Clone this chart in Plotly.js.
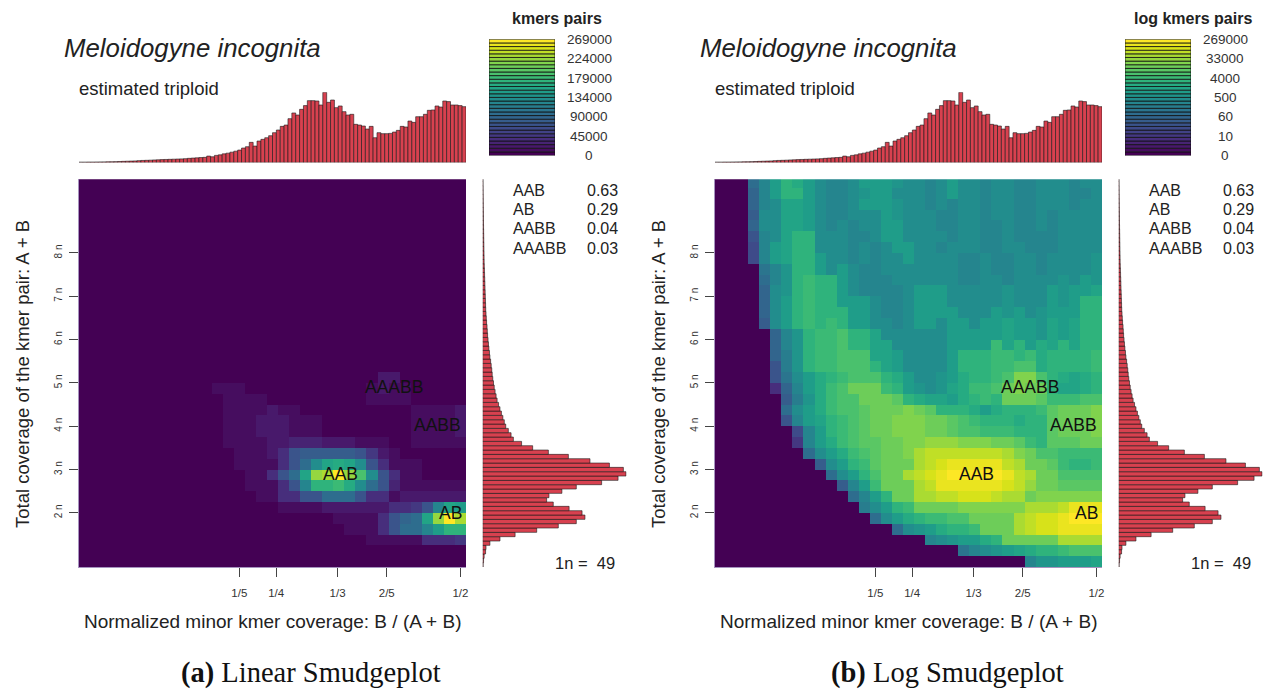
<!DOCTYPE html>
<html><head><meta charset="utf-8">
<script src="https://cdn.plot.ly/plotly-3.0.1.min.js"></script>
<style>html,body{margin:0;padding:0;background:#fff;}#chart{width:1264px;height:691px;}</style>
</head><body><div id="chart"></div>
<script>
// ---------------- data ----------------
const speciesName = 'Meloidogyne incognita';
const ploidyText = 'estimated triploid';
const coverage1n = 49;
const maxPairs = 269000;
const peakLabels = ['AAB', 'AB', 'AABB', 'AAABB'];
const peakProportions = [0.63, 0.29, 0.04, 0.03];
// summit positions: minor coverage fraction, total coverage in units of n
const peakSummitX = [0.337, 0.486, 0.469, 0.41];
const peakSummitY = [2.89, 1.99, 4.03, 4.9];
const xTickValues = [0.2, 0.25, 1 / 3, 0.4, 0.5];
const xTickLabels = ['1/5', '1/4', '1/3', '2/5', '1/2'];
const yTickValues = [2, 3, 4, 5, 6, 7, 8];
const yTickLabels = ['2 n', '3 n', '4 n', '5 n', '6 n', '7 n', '8 n'];
const linearLegendLabels = ['0', '45000', '90000', '134000', '179000', '224000', '269000'];
const logLegendLabels = ['0', '10', '60', '500', '4000', '33000', '269000'];
const captions = ['<b>(a)</b> Linear Smudgeplot', '<b>(b)</b> Log Smudgeplot'];
const xTitle = 'Normalized minor kmer coverage: B / (A + B)';
const yTitle = 'Total coverage of the kmer pair: A + B';

// histogram of minor kmer coverage (relative heights, 100 bins from 0 to 1/2)
const minorCoverageHist = [
  0.3,0.3,0.4,0.4,0.5,0.6,0.7,0.8,0.9,1.1,
  1.3,1.5,1.7,1.9,2.1,2.5,2.8,3.0,3.2,3.5,
  3.7,4.0,4.2,4.4,4.6,4.8,5.0,5.3,5.8,6.2,
  6.5,6.9,7.2,9.0,8.0,10.0,10.8,12.2,13.2,14.6,
  16.0,17.6,20.5,22.4,28.6,23.3,30.5,32.9,35.2,38.1,
  42.4,46.2,51.4,53.3,62.4,70.5,67.6,75.7,81.0,88.1,
  88.1,87.6,81.9,100,85.7,89.0,78.1,80.5,72.4,67.6,
  68.6,54.3,53.3,51.9,47.6,51.4,35.2,42.4,41.0,41.0,
  41.4,43.3,45.7,51.4,50.5,59.0,57.1,65.2,65.2,68.6,
  74.3,74.8,80.5,79.0,87.6,86.7,81.9,81.9,81.0,79.5];

// histogram of total coverage (relative lengths, bins of n/10 from the bottom)
const totalCoverageHist = [
  0.3,0.6,1.0,2.0,2.3,5,12,22.5,37.5,52.5,
  65,71,69,60,49,44.4,46,55,65,82.6,
  94,99.5,97.7,88,74.5,59.5,45.6,34.7,27,21.3,
  19.7,17.8,16,15,14,13,12,11,10,9.3,
  8.6,8,7.5,7,6.6,6.3,5.9,5.5,5,4.7,
  4.3,4,3.7,3.4,3.2,3.0,2.7,2.5,2.3,2.1,
  2.0,1.9,1.8,1.7,1.6,1.5,1.4,1.3,1.2,1.1,
  1.0,0.95,0.9,0.85,0.8,0.75,0.7,0.65,0.6,0.55,
  0.5,0.47,0.44,0.4,0.37,0.34,0.3,0.28,0.25,0.22];

// log10 of kmer pairs per cell, rows from top (high coverage) to bottom, 35 columns (0 = no pairs)
const log10Pairs = [
 [0,0,0,2.0,2.5,2.9,3.4,3.35,3.0,2.7,2.45,2.5,2.65,2.9,3.0,2.95,2.75,2.7,2.6,2.45,2.6,2.9,2.65,2.6,2.5,2.6,2.65,2.45,2.45,2.6,2.65,2.6,2.45,2.55,2.6],
 [0,0,0,1.7,2.45,2.95,3.4,3.4,3.0,2.65,2.4,2.45,2.7,2.85,3.05,3.0,2.7,2.65,2.6,2.5,2.55,2.9,2.6,2.7,2.45,2.55,2.7,2.4,2.5,2.55,2.6,2.6,2.4,2.5,2.65],
 [0,0,0,1.7,2.5,2.7,3.1,3.2,3.05,2.7,2.45,2.4,2.65,2.9,2.95,3.0,2.8,2.7,2.65,2.45,2.6,2.5,2.65,2.65,2.5,2.6,2.6,2.45,2.4,2.6,2.65,2.55,2.45,2.55,2.6],
 [0,0,0,1.6,2.55,2.65,3.1,3.2,3.0,2.6,2.45,2.45,2.6,2.55,2.7,3.05,2.75,2.7,2.6,2.6,2.5,2.45,2.6,2.65,2.45,2.55,2.6,2.45,2.45,2.6,2.45,2.55,2.55,2.6,2.6],
 [0,0,0,1.8,2.55,2.65,3.15,3.2,3.0,2.6,2.45,2.6,2.45,2.55,2.7,3.0,2.9,2.7,2.6,2.6,2.5,2.45,2.6,2.7,2.45,2.5,2.6,2.45,2.4,2.6,2.45,2.55,2.55,2.6,2.65],
 [0,0,0,1.5,2.5,2.65,3.1,3.45,3.4,2.6,2.65,2.6,2.45,2.5,2.7,2.95,2.9,2.7,2.65,2.6,2.55,2.45,2.6,2.7,2.45,2.5,2.55,2.45,2.4,2.45,2.5,2.55,2.6,2.6,2.65],
 [0,0,0,1.3,2.5,2.9,3.1,3.45,3.4,2.6,2.65,2.6,2.45,2.55,2.45,2.7,2.9,2.95,2.65,2.7,2.5,2.65,2.6,2.7,2.45,2.5,2.6,2.6,2.4,2.45,2.45,2.65,2.55,2.7,2.65],
 [0,0,0,1.2,2.5,2.9,3.15,3.45,3.4,3.0,2.65,2.6,2.45,2.55,2.45,2.7,2.7,2.95,2.65,2.7,2.65,2.65,2.5,2.5,2.6,2.5,2.45,2.6,2.6,2.45,2.65,2.65,2.65,2.7,2.85],
 [0,0,0,0,2.1,2.5,2.8,3.45,3.4,3.0,2.65,2.9,2.6,2.45,2.45,2.7,2.7,2.65,2.65,2.7,2.65,2.65,2.5,2.5,2.6,2.5,2.45,2.6,2.6,2.45,2.65,2.65,2.65,2.7,2.85],
 [0,0,0,0,2.0,2.5,2.8,3.4,3.6,3.5,3.4,2.9,2.6,2.45,2.45,2.45,2.7,2.65,2.65,2.7,2.65,2.7,2.5,2.5,2.6,2.65,2.45,2.7,2.6,2.65,2.65,2.85,2.65,2.95,2.85],
 [0,0,0,0,1.8,2.55,2.85,3.4,3.6,3.5,3.4,2.9,2.6,2.45,2.45,2.45,2.5,2.65,2.9,2.95,2.9,2.7,2.7,2.65,2.7,2.65,2.85,2.7,2.7,2.65,2.9,2.85,2.9,2.95,3.2],
 [0,0,0,0,1.8,2.55,2.9,3.4,3.6,3.5,3.4,2.9,3.0,2.9,2.7,2.45,2.5,2.6,2.9,2.95,2.9,2.7,2.7,2.65,2.7,2.65,2.85,2.7,2.7,2.65,2.9,2.85,2.9,3.4,3.45],
 [0,0,0,0,1.8,2.6,2.9,3.4,3.6,3.5,3.4,3.4,3.0,2.9,2.7,2.45,2.5,2.6,2.9,2.95,2.9,2.9,2.7,2.65,2.7,2.9,2.85,2.9,2.7,2.75,2.9,3.0,2.9,3.4,3.5],
 [0,0,0,0,1.6,2.6,2.9,3.4,3.6,3.5,3.7,3.4,3.0,2.9,2.7,2.65,2.5,2.6,2.9,2.95,2.7,2.9,2.95,2.65,2.95,2.9,3.2,2.9,3.0,2.75,3.2,3.0,3.2,3.4,3.5],
 [0,0,0,0,0,1.8,2.4,2.8,3.4,3.7,3.7,3.9,3.5,3.4,3.2,2.65,2.7,2.6,2.7,2.65,2.7,2.9,2.95,3.0,2.95,2.9,3.2,2.9,3.0,2.75,3.2,3.0,3.2,3.4,3.5],
 [0,0,0,0,0,1.7,2.4,2.8,3.4,3.7,3.7,3.9,3.5,3.4,3.2,3.2,2.7,2.7,2.7,2.65,2.7,3.0,2.95,3.0,2.95,3.6,3.2,3.4,3.0,3.25,3.2,3.4,3.2,3.5,3.5],
 [0,0,0,0,0,1.7,2.3,2.8,3.4,3.7,3.7,3.9,3.8,3.88,3.2,3.2,3.0,2.7,2.7,2.65,2.7,3.0,3.4,3.45,3.5,3.6,3.7,3.4,3.7,3.25,3.4,3.4,3.45,3.5,3.65],
 [0,0,0,0,0,1.4,2.3,2.8,3.4,3.7,3.7,3.9,3.8,3.88,3.5,3.2,3.0,2.7,2.7,2.65,2.7,3.0,3.4,3.45,3.5,3.6,3.7,3.85,3.85,3.25,3.4,3.4,3.45,3.5,3.65],
 [0,0,0,0,0,1.4,2.2,2.6,2.9,3.3,3.45,3.65,3.75,3.85,3.8,3.5,3.3,2.95,2.7,2.7,2.75,2.95,3.3,3.4,3.55,3.6,3.75,4.25,4.25,3.75,3.4,3.35,3.2,3.35,3.4],
 [0,0,0,0,0,0.8,1.8,2.5,2.9,3.35,3.6,3.75,4.1,4.15,4.1,3.6,3.4,3.0,2.85,2.65,2.8,3.1,3.35,3.6,3.7,3.8,4.2,4.25,4.2,4.1,3.45,3.2,3.2,3.35,3.45],
 [0,0,0,0,0,0,1.6,2.35,2.85,3.35,3.6,3.85,3.9,4.1,4.15,4.1,4.05,3.45,3.35,3.15,3.1,2.9,3.3,3.4,3.6,3.5,4.1,4.15,4.1,4.05,3.7,3.7,3.7,3.9,3.9],
 [0,0,0,0,0,0,2.0,2.55,2.9,3.35,3.65,3.85,3.9,4.05,4.15,4.15,4.2,4.25,4.1,4.05,3.5,3.4,3.4,3.3,2.95,3.3,3.4,3.4,3.45,3.7,4.05,4.1,4.1,4.15,4.25],
 [0,0,0,0,0,0,1.5,2.5,2.9,3.2,3.4,3.7,3.9,3.95,4.1,4.2,4.3,4.35,4.3,4.15,4.1,4.05,3.75,3.7,3.45,3.4,3.4,3.35,3.4,3.5,4.05,4.1,4.1,4.15,4.25],
 [0,0,0,0,0,0,0,1.3,2.5,2.9,3.4,3.7,3.9,3.95,4.1,4.2,4.35,4.4,4.35,4.2,4.1,3.95,3.8,3.75,3.7,3.7,3.65,3.4,3.4,3.45,4.05,4.1,4.1,4.15,4.25],
 [0,0,0,0,0,0,0,1.0,2.4,2.9,3.35,3.7,3.9,3.95,3.95,4.1,4.15,4.25,4.4,4.45,4.45,4.45,4.4,4.4,4.35,4.2,4.1,4.05,3.6,3.45,4.05,4.05,4.05,4.1,4.2],
 [0,0,0,0,0,0,0,0,2.0,2.55,2.9,3.35,3.7,3.85,3.95,4.1,4.15,4.25,4.6,4.85,4.9,4.92,4.9,4.9,4.88,4.85,4.7,4.4,4.1,3.8,3.75,3.7,3.7,3.6,3.6],
 [0,0,0,0,0,0,0,0,0,1.6,2.55,2.9,3.4,3.7,3.95,4.1,4.1,4.2,4.6,4.83,4.99,5.12,5.2,5.21,5.19,5.12,4.85,4.6,4.15,4.1,4.05,3.65,3.5,3.55,3.6],
 [0,0,0,0,0,0,0,0,0,0,2.0,2.55,2.9,3.4,3.9,4.1,4.15,4.6,4.85,4.99,5.18,5.34,5.37,5.43,5.35,5.27,5.12,4.85,4.6,4.15,4.1,3.8,3.75,3.8,3.85],
 [0,0,0,0,0,0,0,0,0,0,0,1.6,2.5,2.9,3.6,4.1,4.15,4.2,4.6,4.85,5.1,5.23,5.24,5.25,5.22,5.12,4.98,4.85,4.45,4.15,4.1,4.0,4.05,4.0,4.05],
 [0,0,0,0,0,0,0,0,0,0,0,0,2.0,2.5,2.9,3.4,4.1,4.15,4.6,4.6,4.83,4.83,4.97,4.97,4.97,4.83,4.6,4.6,4.15,4.3,4.3,4.3,4.3,4.3,4.3],
 [0,0,0,0,0,0,0,0,0,0,0,0,0,2.3,2.6,2.9,3.4,3.7,4.1,4.15,4.15,4.15,4.3,4.3,4.3,4.3,4.3,4.35,4.6,4.6,4.65,4.85,5.1,5.18,5.17],
 [0,0,0,0,0,0,0,0,0,0,0,0,0,0,2.0,2.55,2.9,3.3,3.4,3.6,3.7,3.75,3.9,4.15,4.2,4.2,4.2,4.6,4.85,4.95,5.0,5.18,5.34,5.43,5.37],
 [0,0,0,0,0,0,0,0,0,0,0,0,0,0,0,0,2.0,2.55,2.85,2.9,3.3,3.4,3.45,3.6,4.1,4.15,4.15,4.6,4.85,4.97,4.97,5.1,5.17,5.24,5.24],
 [0,0,0,0,0,0,0,0,0,0,0,0,0,0,0,0,0,0,0,2.5,2.55,2.85,2.9,2.95,3.35,3.4,4.1,4.15,4.15,4.15,4.15,4.6,4.6,4.6,4.7],
 [0,0,0,0,0,0,0,0,0,0,0,0,0,0,0,0,0,0,0,0,0,0,2.1,2.5,2.6,2.85,2.9,3.15,3.35,3.4,3.45,3.7,3.75,3.75,3.8],
 [0,0,0,0,0,0,0,0,0,0,0,0,0,0,0,0,0,0,0,0,0,0,0,0,0,0,0,0,2.5,2.8,2.85,2.9,2.9,2.95,3.1]
];

// ---------------- colour palette (viridis, 32 discrete steps as in the legend) ----------------
const viridisAnchors = ['#440154','#48186a','#472d7b','#424086','#3b528b','#33638d','#2c728e','#26828e',
  '#21918c','#1fa088','#28ae80','#3fbc73','#5ec962','#84d44b','#addc30','#d8e219','#fde725'];
const legendSteps = 32;
function hexToRgb(h) { return [1, 3, 5].map(i => parseInt(h.substr(i, 2), 16)); }
function viridisAt(t) {
  const n = viridisAnchors.length - 1;
  const p = Math.min(Math.max(t, 0), 1) * n;
  const i = Math.min(Math.floor(p), n - 1);
  const f = p - i;
  const a = hexToRgb(viridisAnchors[i]), b = hexToRgb(viridisAnchors[i + 1]);
  const c = a.map((v, k) => Math.round(v + (b[k] - v) * f));
  return 'rgb(' + c.join(',') + ')';
}
const paletteColors = Array.from({length: legendSteps}, (_, k) => viridisAt(k / (legendSteps - 1)));
const stepScale = [];
paletteColors.forEach((c, k) => { stepScale.push([k / legendSteps, c]); stepScale.push([(k + 1) / legendSteps, c]); });

// ---------------- geometry (pixels of the 1264x691 page) ----------------
const W = 1264, H = 691;
const px = v => v / W;
const py = v => 1 - v / H;
const heatLeft = 79, heatRight = 466, heatTop = 179.3, heatBottom = 567;
const topHistTop = 92.3, topHistBottom = 162.4;
const sideLeft = 482.7, sideRight = 626.7;
const barLeft = 489, barRight = 555, barTop = 39.3, barBottom = 155.5;
const xFirstCenter = -0.01, xBinWidth = 0.015;
const yFirstCenter = 0.875, yBinHeight = 0.25;
const xRange = [-0.0175, 0.5075], yRange = [0.75, 9.70];
const sideBins = 89.5;
const fontSans = 'Liberation Sans, Arial, sans-serif';
const histColor = '#d8414f';

const zLog = log10Pairs.slice().reverse();
const zLin = zLog.map(r => r.map(v => (v > 0 ? Math.round(Math.pow(10, v)) : 0)));

const traces = [];
const layout = {
  width: W, height: H, margin: {l: 0, r: 0, t: 0, b: 0},
  paper_bgcolor: '#fff', plot_bgcolor: '#fff', showlegend: false,
  barmode: 'overlay', font: {family: fontSans, color: '#222'},
  annotations: []
};
const axName = i => (i === 1 ? '' : String(i));

function buildPanel(shift, base, isLog, legendTitle, legendLabels, caption) {
  const A = base, B = base + 1, C = base + 2, D = base + 3;
  const hidden = {visible: false, fixedrange: true, showgrid: false, zeroline: false};
  // heatmap
  traces.push({
    type: 'heatmap', z: isLog ? zLog : zLin,
    x0: xFirstCenter, dx: xBinWidth, y0: yFirstCenter, dy: yBinHeight,
    colorscale: stepScale, zmin: 0, zmax: isLog ? Math.log10(maxPairs) : maxPairs,
    showscale: false, zsmooth: false, hoverinfo: 'skip',
    xaxis: 'x' + axName(A), yaxis: 'y' + axName(A)
  });
  layout['xaxis' + axName(A)] = {
    domain: [px(heatLeft + shift), px(heatRight + shift)], range: xRange, anchor: 'y' + axName(A),
    tickvals: xTickValues, ticktext: xTickLabels, ticks: 'outside', ticklen: 9, tickwidth: 1,
    tickcolor: '#444', tickfont: {size: 11.5, color: '#333'}, ticklabelstandoff: 6,
    showline: true, linecolor: '#a693bf', linewidth: 1,
    showgrid: false, zeroline: false, fixedrange: true
  };
  layout['yaxis' + axName(A)] = {
    domain: [py(heatBottom), py(heatTop)], range: yRange, anchor: 'x' + axName(A),
    tickvals: yTickValues, ticktext: yTickLabels, tickangle: -90, ticks: 'outside', ticklen: 9,
    tickwidth: 1, tickcolor: '#444', tickfont: {size: 10, color: '#333'}, ticklabelstandoff: 3,
    showline: true, linecolor: '#a693bf', linewidth: 1,
    showgrid: false, zeroline: false, fixedrange: true
  };
  // top histogram
  traces.push({
    type: 'bar', x: minorCoverageHist.map((_, i) => i + 0.5), y: minorCoverageHist, width: 1,
    marker: {color: histColor, line: {color: '#1a1a1a', width: 0.6}}, hoverinfo: 'skip',
    xaxis: 'x' + axName(B), yaxis: 'y' + axName(B)
  });
  layout['xaxis' + axName(B)] = Object.assign({}, hidden, {domain: [px(heatLeft + shift), px(heatRight + shift)], range: [0, minorCoverageHist.length], anchor: 'y' + axName(B)});
  layout['yaxis' + axName(B)] = Object.assign({}, hidden, {domain: [py(topHistBottom), py(topHistTop)], range: [0, 100], anchor: 'x' + axName(B)});
  // side histogram
  traces.push({
    type: 'bar', orientation: 'h', y: totalCoverageHist.map((_, i) => i + 0.5), x: totalCoverageHist, width: 1,
    marker: {color: histColor, line: {color: '#1a1a1a', width: 0.6}}, hoverinfo: 'skip',
    xaxis: 'x' + axName(C), yaxis: 'y' + axName(C)
  });
  layout['xaxis' + axName(C)] = Object.assign({}, hidden, {domain: [px(sideLeft + shift), px(sideRight + shift)], range: [0, 100], anchor: 'y' + axName(C)});
  layout['yaxis' + axName(C)] = Object.assign({}, hidden, {domain: [py(heatBottom), py(heatTop)], range: [0, sideBins], anchor: 'x' + axName(C)});
  // colour legend
  const levels = Array.from({length: legendSteps}, (_, i) => i);
  traces.push({
    type: 'bar', x: levels.map(() => 0), y: levels.map(() => 1), base: levels, width: 1,
    marker: {color: paletteColors, line: {color: '#111', width: 0.8}},
    hoverinfo: 'skip', xaxis: 'x' + axName(D), yaxis: 'y' + axName(D)
  });
  layout['xaxis' + axName(D)] = Object.assign({}, hidden, {domain: [px(barLeft + shift), px(barRight + shift)], range: [-0.5, 0.5], anchor: 'y' + axName(D)});
  layout['yaxis' + axName(D)] = Object.assign({}, hidden, {domain: [py(barBottom), py(barTop)], range: [0, legendSteps], anchor: 'x' + axName(D)});

  const ann = layout.annotations;
  const t = (x, y, text, size, opts) => ann.push(Object.assign({xref: 'paper', yref: 'paper', x: px(x + shift), y: py(y), text: text, showarrow: false, font: {size: size, color: '#222'}, xanchor: 'left', yanchor: 'middle'}, opts || {}));
  t(62, 48, '<i>' + speciesName + '</i>', 25.8);
  t(77, 89, ploidyText, 18.5);
  t(557, 19, '<b>' + legendTitle + '</b>', 16, {xanchor: 'center'});
  legendLabels.forEach((lab, i) => ann.push({
    xref: 'paper', yref: 'y' + axName(D), x: px(589 + shift), y: i * legendSteps / (legendLabels.length - 1),
    text: lab, showarrow: false, font: {size: 13.5, color: '#333'}, xanchor: 'center', yanchor: 'middle'
  }));
  peakLabels.forEach((lab, i) => {
    t(511, 190 + 19.5 * i, lab, 16);
    t(585, 190 + 19.5 * i, peakProportions[i].toFixed(2), 16);
    ann.push({xref: 'x' + axName(A), yref: 'y' + axName(A), x: peakSummitX[i], y: peakSummitY[i], text: lab,
      showarrow: false, font: {size: 17.5, color: '#111'}, xanchor: 'center', yanchor: 'middle'});
  });
  t(553, 563, '1n =\u00a0\u00a0' + coverage1n, 16.5);
  t(272.5, 621, xTitle, 19, {xanchor: 'center'});
  t(22, 374, yTitle, 18.5, {xanchor: 'center', textangle: -90});
  t(311, 673, caption, 28.5, {xanchor: 'center', font: {size: 28.5, color: '#111', family: 'Liberation Serif, Times New Roman, serif'}});
}

buildPanel(0, 1, false, 'kmers pairs', linearLegendLabels, captions[0]);
buildPanel(636, 5, true, 'log kmers pairs', logLegendLabels, captions[1]);

Plotly.newPlot('chart', traces, layout, {staticPlot: true, displayModeBar: false});
</script>
</body></html>
